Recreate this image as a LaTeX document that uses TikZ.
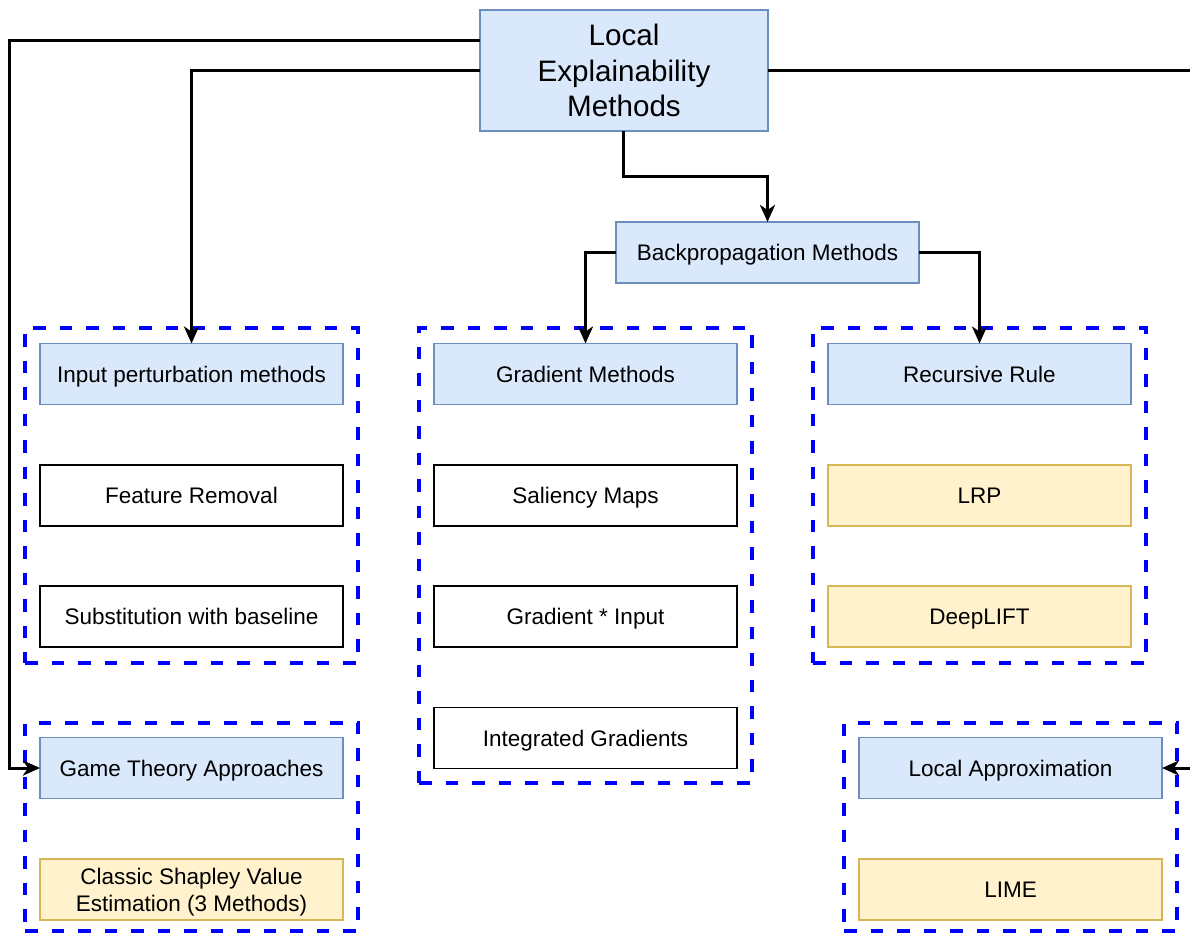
\documentclass[tikz,border=0pt]{standalone}
\usepackage{fontspec}
\setmainfont{Liberation Sans}
\usetikzlibrary{arrows.meta,calc}

\definecolor{bluefill}{HTML}{DAE8FC}
\definecolor{bluedraw}{HTML}{6C8EBF}
\definecolor{yellowfill}{HTML}{FFF2CC}
\definecolor{yellowdraw}{HTML}{D6B656}
\definecolor{groupblue}{HTML}{0000FF}

\tikzset{
  box/.style={rectangle, draw, line width=1.3pt, inner sep=0pt, outer sep=0pt,
    minimum width=303pt, minimum height=61pt, align=center,
    font=\fontsize{22.5}{27}\selectfont},
  oneline/.style={text height=16pt, text depth=0pt},
  catbox/.style={box, fill=bluefill, draw=bluedraw},
  leafbox/.style={box, oneline, fill=white, draw=black},
  hlbox/.style={box, fill=yellowfill, draw=yellowdraw},
  group/.style={rectangle, draw=groupblue, line width=3.6pt,
    dash pattern=on 12.5pt off 14pt, inner sep=0pt, outer sep=0pt},
  link/.style={draw=black, line width=3pt,
    -{Stealth[length=17pt, width=15pt, inset=5pt]}},
}

\begin{document}
\begin{tikzpicture}[x=1pt, y=-1pt]
  \clip (0,0) rectangle (1190,935);
  \fill[white] (0,0) rectangle (1190,935);

  % dashed group frames
  \node[group, minimum width=333pt, minimum height=335pt] (g1) at (191.5,495.5) {};
  \node[group, minimum width=333pt, minimum height=455pt] (g2) at (585.5,555.5) {};
  \node[group, minimum width=333pt, minimum height=335pt] (g3) at (979.5,495.5) {};
  \node[group, minimum width=333pt, minimum height=208pt] (g4) at (191.5,827) {};
  \node[group, minimum width=333pt, minimum height=208pt] (g5) at (1010.5,827) {};

  % root
  \node[catbox, minimum width=288pt, minimum height=121pt,
        font=\fontsize{29.6}{35.5}\selectfont] (top) at (624,70.5)
        {Local\\Explainability\\Methods};

  % backpropagation branch
  \node[catbox, oneline] (bp) at (767.5,252.5) {Backpropagation Methods};

  % input perturbation column
  \node[catbox, oneline] (input) at (191.5,374) {Input perturbation methods};
  \node[leafbox] (feat) at (191.5,495.5) {Feature Removal};
  \node[leafbox] (subst) at (191.5,616.5) {Substitution with baseline};

  % gradient column
  \node[catbox, oneline] (grad) at (585.5,374) {Gradient Methods};
  \node[leafbox] (sal) at (585.5,495.5) {Saliency Maps};
  \node[leafbox] (gxi) at (585.5,616.5) {Gradient * Input};
  \node[leafbox] (ig) at (585.5,738) {Integrated Gradients};

  % recursive rule column
  \node[catbox, oneline] (rec) at (979.5,374) {Recursive Rule};
  \node[hlbox, oneline] (lrp) at (979.5,495.5) {LRP};
  \node[hlbox, oneline] (dl) at (979.5,616.5) {DeepLIFT};

  % game theory
  \node[catbox, oneline] (game) at (191.5,768) {Game Theory Approaches};
  \node[hlbox, text depth=0pt] (shap) at (191.5,889.5) {Classic Shapley Value\\Estimation (3 Methods)};

  % local approximation
  \node[catbox, oneline] (la) at (1010.5,768) {Local Approximation};
  \node[hlbox, oneline] (lime) at (1010.5,889.5) {LIME};

  % connectors
  \coordinate (topup) at ($(top.north west)!0.255!(top.south west)$);
  \draw[link] (topup) -| ([xshift=-31pt]game.west) -- (game.west);
  \draw[link] (top.west) -| (input.north);
  \draw[link] ([xshift=-0.5pt]top.south) -- ++(0,45.5) -| (bp.north);
  \draw[link] (bp.west) -| (grad.north);
  \draw[link] (bp.east) -| (rec.north);
  \draw[link] (top.east) -| ([xshift=40pt]la.east) -- (la.east);
\end{tikzpicture}
\end{document}
